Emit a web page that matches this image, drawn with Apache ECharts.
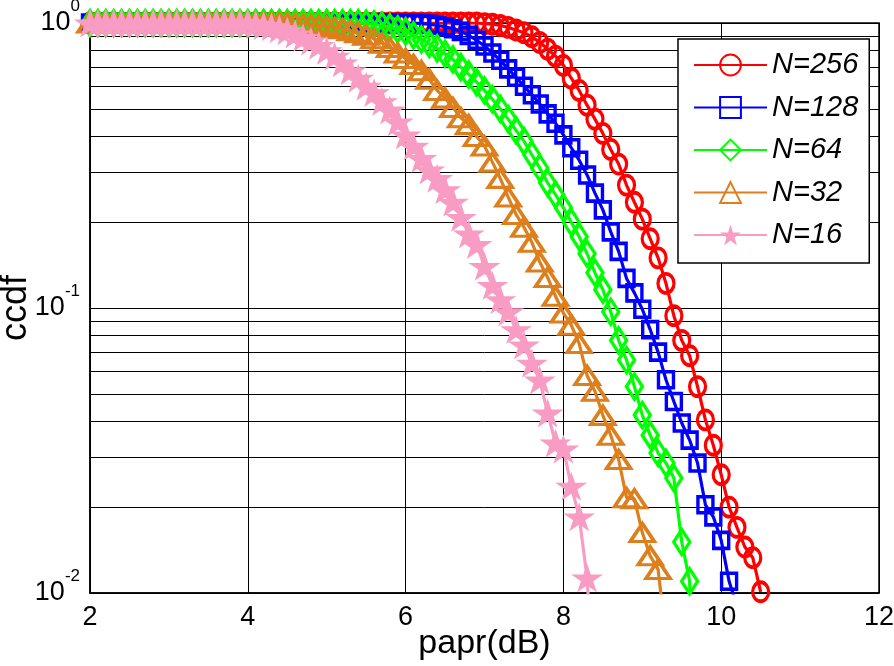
<!DOCTYPE html>
<html>
<head>
<meta charset="utf-8">
<script src="https://cdn.jsdelivr.net/npm/echarts@6/dist/echarts.min.js"></script>
<style>
html,body{margin:0;padding:0;background:#fff;}
#chart{width:894px;height:666px;}
</style>
</head>
<body>
<div id="chart"></div>
<script>
// PAPR sample points (dB), 0.1 dB step
const papr = [
  2.0,2.1,2.2,2.3,2.4,2.5,2.6,2.7,2.8,2.9,
  3.0,3.1,3.2,3.3,3.4,3.5,3.6,3.7,3.8,3.9,
  4.0,4.1,4.2,4.3,4.4,4.5,4.6,4.7,4.8,4.9,
  5.0,5.1,5.2,5.3,5.4,5.5,5.6,5.7,5.8,5.9,
  6.0,6.1,6.2,6.3,6.4,6.5,6.6,6.7,6.8,6.9,
  7.0,7.1,7.2,7.3,7.4,7.5,7.6,7.7,7.8,7.9,
  8.0,8.1,8.2,8.3,8.4,8.5,8.6,8.7,8.8,8.9,
  9.0,9.1,9.2,9.3,9.4,9.5,9.6,9.7,9.8,9.9,
  10.0,10.1,10.2,10.3,10.4,10.5
];

// CCDF values aligned with papr (series end where data ends)
const ccdfN256 = [
  1,1,1,1,1,1,1,1,1,1,
  1,1,1,1,1,1,1,1,1,1,
  1,1,1,1,1,1,1,1,1,1,
  1,1,1,1,1,1,1,1,1,1,
  1,1,1,1,1,1,1,1,1,1,
  .995,.99,.98,.965,.945,.925,.895,.855,.81,.765,
  .71,.64,.58,.515,.46,.41,.36,.32,.27,.235,
  .205,.175,.15,.122,.094,.077,.068,.053,.0405,.033,
  .026,.020,.017,.0145,.0133,.0101
];
const ccdfN128 = [
  1,1,1,1,1,1,1,1,1,1,
  1,1,1,1,1,1,1,1,1,1,
  1,1,1,1,1,1,1,1,1,1,
  1,1,1,1,1,1,1,1,1,1,
  1,.998,.995,.99,.98,.97,.955,.935,.905,.87,
  .83,.785,.74,.69,.645,.60,.56,.52,.48,.445,
  .405,.365,.33,.293,.253,.221,.185,.158,.127,.113,
  .099,.084,.07,.056,.047,.0395,.0344,.0286,.0204,.0185,
  .0153,.011,.009
];
const ccdfN64 = [
  1,1,1,1,1,1,1,1,1,1,
  1,1,1,1,1,1,1,1,1,1,
  1,1,1,1,1,1,1,1,1,1,
  1,1,1,1,1,.995,.99,.98,.965,.95,
  .935,.905,.875,.845,.815,.78,.745,.70,.66,.62,
  .58,.54,.50,.46,.42,.385,.345,.31,.275,.25,
  .225,.20,.178,.155,.133,.116,.097,.077,.0657,.053,
  .0421,.0358,.031,.0286,.0253,.0151,.011,.001
];
const ccdfN32 = [
  1,1,1,1,1,1,1,1,1,1,
  1,1,1,1,1,1,1,1,1,1,
  1,1,1,1,1,1,.995,.99,.985,.98,
  .975,.965,.955,.94,.925,.905,.88,.85,.82,.785,
  .75,.715,.68,.635,.58,.545,.505,.465,.44,.40,
  .37,.325,.285,.245,.213,.192,.17,.145,.128,.11,
  .096,.087,.075,.058,.051,.042,.0358,.0294,.0216,.0214,
  .0163,.0135,.0121,.007
];
const ccdfN16 = [
  1,1,1,1,1,1,1,1,1,1,
  1,1,1,1,1,1,1,1,1,1,
  1,.99,.98,.97,.955,.94,.915,.89,.865,.835,
  .80,.765,.725,.68,.64,.60,.57,.53,.495,.45,
  .405,.37,.335,.305,.285,.26,.235,.208,.182,.167,
  .14,.12,.107,.097,.084,.0742,.064,.0559,.0428,.0336,
  .032,.0237,.0185,.0113,.004
];

const seriesNames = ['N=256','N=128','N=64','N=32','N=16'];
const xTicks = [2,4,6,8,10,12];
const minorGrid = [0.02,0.03,0.04,0.05,0.06,0.07,0.08,0.09,0.2,0.3,0.4,0.5,0.6,0.7,0.8,0.9];

const FONT = 'Liberation Sans';
const STAR = 'path://M50 0 L61.23 34.55 L97.55 34.55 L68.17 55.9 L79.39 90.45 L50 69.1 L20.61 90.45 L31.83 55.9 L2.45 34.55 L38.77 34.55 Z';

function pairs(ys){ return ys.map((y,i)=>[papr[i], y]); }

const styles = [
  {color:'#ff0000', symbol:'circle', size:[16,19], hollow:true},
  {color:'#0000ff', symbol:'rect', size:[15,16], hollow:true},
  {color:'#00ff00', symbol:'diamond', size:[16,25], hollow:true},
  {color:'#dc7f1c', symbol:'triangle', size:[24,18], hollow:true},
  {color:'#f99cc4', symbol:STAR, size:[32,29], hollow:false}
];
const allData = [ccdfN256, ccdfN128, ccdfN64, ccdfN32, ccdfN16];

const series = [{
  type:'line', data:[], silent:true, z:1,
  markLine:{
    silent:true, symbol:'none', z:1, animation:false,
    label:{show:false},
    lineStyle:{color:'#000', width:1, type:'solid'},
    data: minorGrid.map(v=>({yAxis:v}))
  }
}];
allData.forEach((ys,k)=>{
  const s = styles[k];
  series.push({
    name: seriesNames[k],
    type:'line',
    data: pairs(ys),
    symbol: s.symbol,
    symbolSize: s.size,
    symbolKeepAspect: false,
    showAllSymbol: true,
    clip: true,
    z: 2 + k,
    animation:false,
    lineStyle:{color:s.color, width:3.2},
    itemStyle: s.hollow ? {color:'rgba(255,255,255,0)', borderColor:s.color, borderWidth:3.5}
                        : {color:s.color, borderColor:s.color, borderWidth:0}
  });
});

const chart = echarts.init(document.getElementById('chart'), null, {renderer:'canvas'});
chart.setOption({
  backgroundColor:'#fff',
  animation:false,
  textStyle:{fontFamily:FONT},
  grid:{left:90, right:15, top:23, bottom:73, show:true, borderColor:'#000', borderWidth:1.5, backgroundColor:'transparent', containLabel:false, outerBoundsMode:'none'},
  legend:{
    data: seriesNames,
    orient:'vertical',
    left:678, top:39,
    padding:[11,11,13,15],
    backgroundColor:'#fff',
    borderColor:'#000', borderWidth:1.5,
    itemWidth:73, itemHeight:26, itemGap:12.5,
    textStyle:{fontSize:29, fontStyle:'italic', color:'#000', fontFamily:FONT, lineHeight:30},
    selectedMode:false
  },
  xAxis:{
    type:'value', min:xTicks[0], max:xTicks[xTicks.length-1], interval:2,
    name:'papr(dB)', nameLocation:'middle', nameGap:34, nameMoveOverlap:false,
    nameTextStyle:{fontSize:34, color:'#000', fontFamily:FONT},
    axisLine:{show:true, lineStyle:{color:'#000', width:1.5}},
    axisTick:{show:false},
    axisLabel:{fontSize:27, color:'#000', margin:11, fontFamily:FONT},
    splitLine:{show:true, lineStyle:{color:'#000', width:1}}
  },
  yAxis:{
    type:'log', logBase:10, min:0.01, max:1,
    name:'ccdf', nameLocation:'middle', nameGap:56, nameMoveOverlap:false,
    nameTextStyle:{fontSize:36, color:'#000', fontFamily:FONT},
    axisLine:{show:true, lineStyle:{color:'#000', width:1.5}},
    axisTick:{show:false},
    axisLabel:{
      margin:10, color:'#000', fontSize:27, fontFamily:FONT,
      formatter: v => '{b|10}{s|' + Math.round(Math.log10(v)) + '}',
      padding:[0,0,12,0],
      rich:{
        b:{fontSize:27, fontFamily:FONT, color:'#000', height:28, verticalAlign:'bottom'},
        s:{fontSize:17, fontFamily:FONT, color:'#000', height:18, verticalAlign:'top', padding:[0,0,22,0]}
      }
    },
    splitLine:{show:true, lineStyle:{color:'#000', width:1}},
    minorSplitLine:{show:false}
  },
  series: series
});
</script>
</body>
</html>
